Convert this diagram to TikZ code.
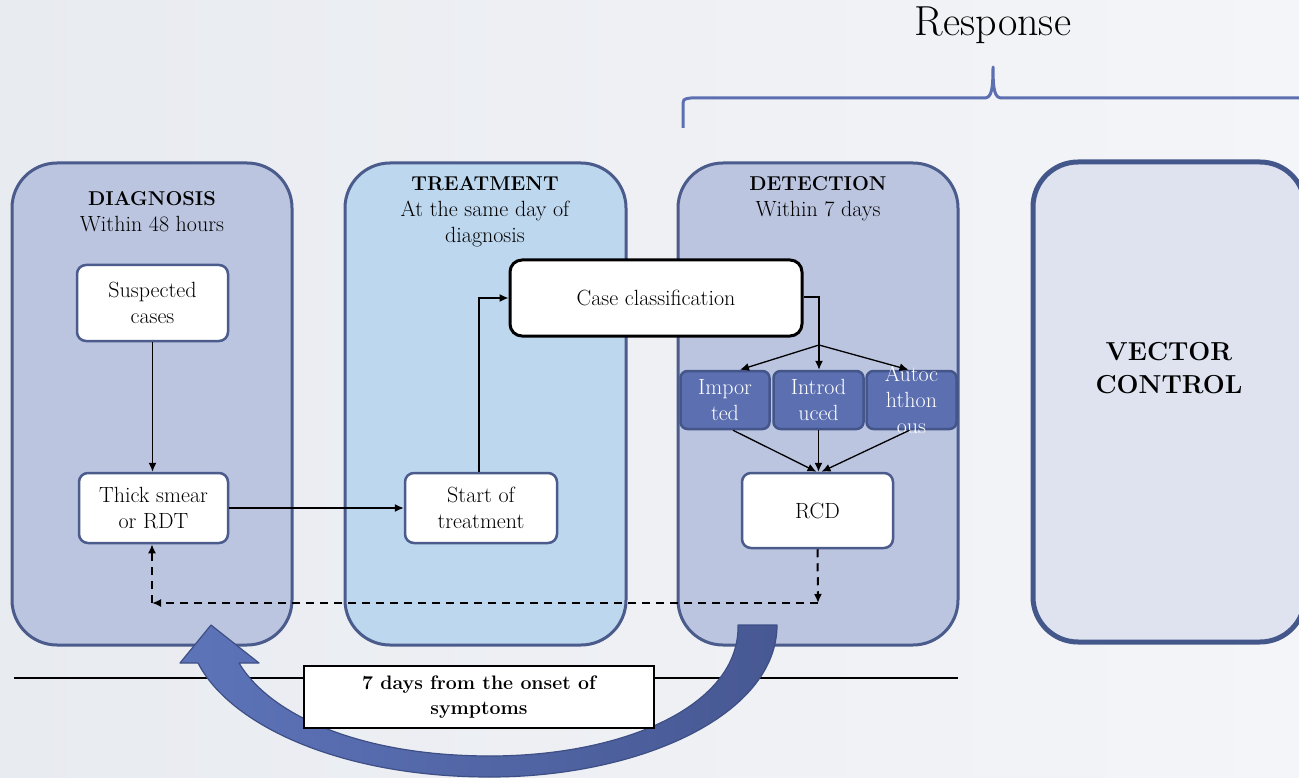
\documentclass[tikz,border=0pt]{standalone}
\usetikzlibrary{arrows.meta}
\definecolor{lav}{HTML}{BBC5E0}
\definecolor{ltblue}{HTML}{BDD7EE}
\definecolor{pborder}{HTML}{4A5B8C}
\definecolor{smallfill}{HTML}{5B6FB1}
\definecolor{smallborder}{HTML}{44558A}
\definecolor{vcfill}{HTML}{DFE3F0}
\definecolor{vcborder}{HTML}{44578A}
\definecolor{bracecol}{HTML}{5C70B1}
\definecolor{bgl}{HTML}{E8EBF0}
\definecolor{bgr}{HTML}{F4F5F8}
\definecolor{arrL}{HTML}{5D74B9}
\definecolor{arrR}{HTML}{475893}
\definecolor{arrB}{HTML}{3E4F85}
\tikzset{
  panel/.style={draw=pborder, line width=3pt, rounded corners=45pt, inner sep=0pt},
  ttl/.style={align=center, font=\fontsize{22}{26}\selectfont, inner sep=0pt},
  wbox/.style={draw=pborder, fill=white, line width=2.5pt, rounded corners=9pt, align=center, inner sep=0pt, font=\fontsize{22}{25.5}\selectfont},
  sbox/.style={draw=smallborder, fill=smallfill, line width=2.5pt, rounded corners=7pt, inner sep=0pt, minimum height=58pt},
  stext/.style={align=center, inner sep=0pt, text=white, font=\fontsize{22}{26}\selectfont},
  arr/.style={-{Latex[length=9pt,width=8pt]}, line width=1.3pt},
  darr/.style={-{Latex[length=9pt,width=8pt]}, line width=2pt, dash pattern=on 8pt off 6pt},
}
\begin{document}
\begin{tikzpicture}[x=1pt,y=-1pt]
\clip (0,0) rectangle (1299,778);
\useasboundingbox (0,0) rectangle (1299,778);
\shade[left color=bgl, right color=bgr] (0,0) rectangle (1299,778);

% Response brace
\node[font=\fontsize{42}{46}\selectfont, inner sep=0pt] (resp) at (993,25) {Response};
\draw[bracecol, line width=3pt, line join=round] (683,128) -- (683,107) .. controls (683,99) .. (691,98) -- (984,98) .. controls (991,98) and (993,92) .. (993,67) .. controls (993,92) and (995,98) .. (1002,98) -- (1310,98);

% panels
\node[panel, fill=lav, minimum width=280pt, minimum height=482pt] (diag) at (152,404) {};
\node[panel, fill=ltblue, minimum width=281pt, minimum height=482pt] (treat) at (485.5,404) {};
\node[panel, fill=lav, minimum width=280pt, minimum height=482pt] (detect) at (818,404) {};
\node[panel, fill=vcfill, draw=vcborder, line width=5pt, minimum width=272pt, minimum height=480pt] (vc) at (1169,402) {};

\node[ttl] (diagT) at (152,212) {\fontsize{20}{26}\selectfont\textbf{DIAGNOSIS}\\Within 48 hours};
\node[ttl] (treatT) at (485,212) {\fontsize{20}{26}\selectfont\textbf{TREATMENT}\\At the same day of\\diagnosis};
\node[ttl] (detT) at (818,199) {\fontsize{20}{26}\selectfont\textbf{DETECTION}\\Within 7 days};
\node[align=center, inner sep=0pt, font=\fontsize{26}{33}\selectfont\bfseries] (vcT) at (1169,368) {VECTOR\\CONTROL};

% boxes
\node[wbox, minimum width=151pt, minimum height=76pt] (susp) at (152.5,303) {Suspected\\cases};
\node[wbox, minimum width=149pt, minimum height=70pt] (thick) at (153.5,508) {Thick smear\\or RDT};
\node[wbox, minimum width=152pt, minimum height=70pt] (start) at (481,508) {Start of\\treatment};
\node[wbox, draw=black, line width=3pt, rounded corners=12pt, minimum width=292pt, minimum height=76pt] (case) at (656,298) {Case classification};
\node[sbox, minimum width=89pt] (imp) at (725,400) {};
\node[sbox, minimum width=90pt] (intr) at (818.5,400) {};
\node[sbox, minimum width=90pt] (auto) at (911.5,400) {};
\node[stext] (impT) at (imp) {Impor\\ted};
\node[stext] (intrT) at (intr) {Introd\\uced};
\node[stext] (autoT) at (auto) {Autoc\\hthon\\ous};
\node[wbox, minimum width=151pt, minimum height=75pt] (rcd) at (817.5,510.5) {RCD};

% connectors
\draw[arr] (susp.south) -- (susp.south |- thick.north);
\draw[arr] (thick) -- (start);
\draw[arr] ([xshift=-2pt]start.north) |- (case.west);
\coordinate (split) at (819,345);
\draw[line width=1.3pt] (case.east |- 0,297) -| (split);
\draw[arr] (split) -- ([xshift=15pt]imp.north);
\draw[arr] (split) -- (split |- intr.north);
\draw[arr] (split) -- ([xshift=-3pt]auto.north);
\draw[arr] ([xshift=8pt]imp.south) -- ([xshift=-1pt]rcd.north);
\draw[arr] (intr.south) -- (intr.south |- rcd.north);
\draw[arr] ([xshift=-2pt]auto.south) -- ([xshift=4pt]rcd.north);

\coordinate (dR) at (818,603);
\coordinate (dL) at (152,603);
\draw[darr] (rcd.south) -- (dR);
\draw[darr] (dR) -- (dL);
\draw[darr] (dL) -- (dL |- thick.south);

% timeline
\coordinate (tl1) at (14,678);
\coordinate (tl2) at (958,678);
\draw[line width=1.5pt] (tl1) -- (tl2);

% big curved arrow
\shade[left color=arrL, right color=arrR, draw=arrB, line width=1.2pt, line join=round]
  (738,625) -- (777,625)
  .. controls (777,715) and (640,777) .. (490,777)
  .. controls (340,777) and (230,725) .. (198,663)
  -- (180,663) -- (211,625) -- (259,663) -- (239,663)
  .. controls (270,715) and (360,756) .. (490,756)
  .. controls (625,756) and (740,705) .. (738,625) -- cycle;

\node[draw=black, fill=white, line width=1.5pt, minimum width=350pt, minimum height=62pt, inner sep=0pt, align=center, font=\fontsize{19.5}{25}\selectfont\bfseries] (days) at (479,697) {7 days from the onset of\\symptoms};
\end{tikzpicture}
\end{document}
